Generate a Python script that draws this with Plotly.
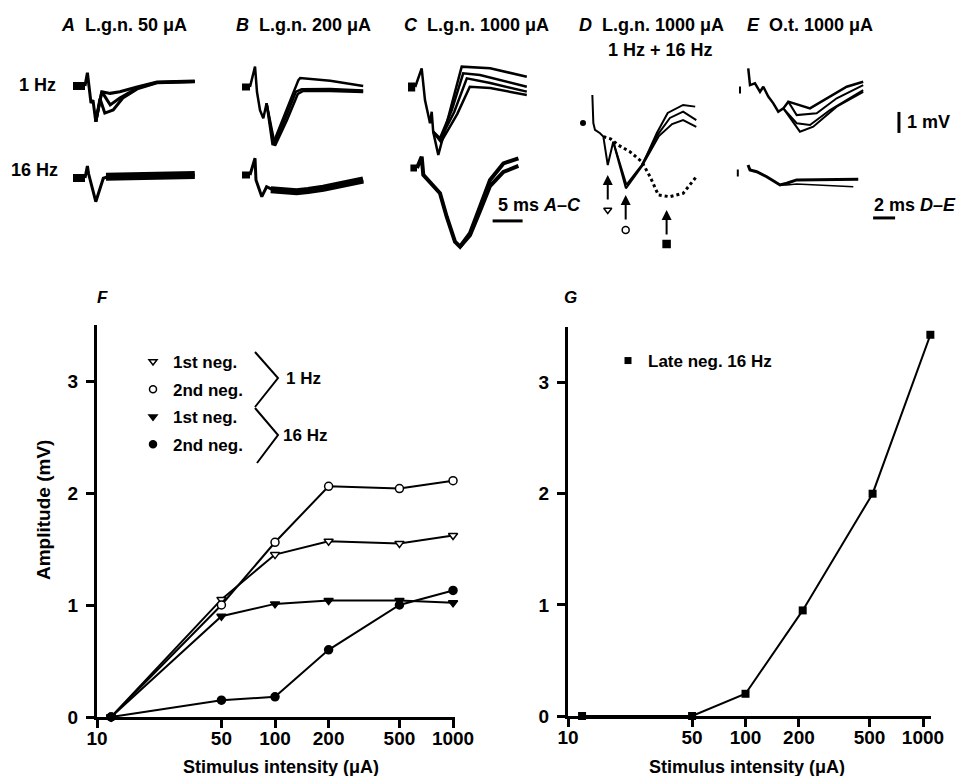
import plotly.graph_objects as go

W, H = 957, 776
FONT = "Liberation Sans, Arial, Helvetica, sans-serif"


def px(x):
    return x / W


def py(y):
    return 1 - y / H


# ---------------- Panel F / G data ----------------
stim_F = [12, 50, 100, 200, 500, 1000]
first_neg_1hz = [0, 1.05, 1.45, 1.57, 1.55, 1.62]
second_neg_1hz = [0, 1.0, 1.56, 2.06, 2.04, 2.11]
first_neg_16hz = [0, 0.9, 1.01, 1.04, 1.04, 1.02]
second_neg_16hz = [0, 0.15, 0.18, 0.6, 1.0, 1.13]

stim_G = [12, 50, 100, 210, 520, 1100]
late_neg_16hz = [0, 0, 0.2, 0.95, 2.0, 3.43]

x_tick_vals = [10, 50, 100, 200, 500, 1000]
x_tick_text = ["10", "50", "100", "200", "500", "1000"]
y_tick_vals = [0, 1, 2, 3]

# ---------------- Recorded waveforms (time ms, voltage mV) ----------------
# A  L.g.n. 50 uA
A1_base_t = [0, 2.0]
A1_t1 = [2.0, 2.4, 3.0, 3.33, 3.8, 4.8, 6.2, 7.8, 10.7, 14.0, 20.3]
A1_v1 = [0, 0.63, -0.81, -0.67, -1.70, -0.27, -0.35, -0.27, -0.05, 0.19, 0.24]
A1_t2 = [3.8, 4.8, 6.2, 7.8, 10.7, 14.0, 20.3]
A1_v2 = [-1.70, -0.27, -0.9, -0.57, -0.1, 0.17, 0.22]
A1_t3 = [3.8, 4.5, 5.3, 6.7, 8.3, 10.7, 14.0, 20.3]
A1_v3 = [-1.70, -0.6, -1.29, -1.14, -0.57, -0.14, 0.15, 0.2]
A16_base_t = [0, 2.0]
A16_t = [2.0, 2.4, 2.6, 3.8, 5.05, 6.2, 12.8, 20.3]
A16_v = [0, 0.57, 0.2, -1.13, -0.01, 0.1, 0.14, 0.14]
A16_band_t = [5.5, 12.8, 20.3]
A16_band_v = [0.06, 0.14, 0.14]

# B  L.g.n. 200 uA
B1_base_t = [0, 1.33]
B1_t1 = [1.33, 2.17, 2.5, 3.0, 3.55, 4.1, 5.1, 6.9, 8.55, 9.4, 9.7, 14.7, 20.2]
B1_v1 = [0, 0.97, -0.24, -1.1, -1.49, -0.78, -2.76, -1.48, -0.22, 0.33, 0.43, 0.3, 0.05]
B1_t2 = [4.1, 5.3, 7.25, 9.0, 9.95, 14.7, 20.2]
B1_v2 = [-0.78, -2.76, -1.48, -0.22, -0.11, -0.1, -0.17]
B1_t3 = [4.1, 5.5, 7.5, 9.3, 10.2, 14.7, 20.2]
B1_v3 = [-0.78, -2.8, -1.57, -0.33, -0.19, -0.19, -0.24]
B16_base_t = [0, 1.33]
B16_t = [1.33, 2.17, 2.33, 3.3, 4.1, 5.2, 9.1, 13.55, 20.2]
B16_v = [0, 0.8, -0.24, -1.03, -0.56, -0.71, -0.8, -0.63, -0.24]
B16_band_t = [4.8, 7.0, 9.1, 11.0, 13.55, 20.2]
B16_band_v = [-0.7, -0.78, -0.8, -0.74, -0.63, -0.24]

# C  L.g.n. 1000 uA
C1_base_t = [0, 1.2]
C1_t1 = [1.2, 2.28, 2.83, 3.67, 3.95, 4.2, 5.05, 7.0, 8.4, 8.95, 13.7, 19.8]
C1_v1 = [0, 0.89, -0.62, -1.73, -1.18, -2.13, -3.24, -1.1, 0.49, 0.97, 0.89, 0.49]
C1_t2 = [4.2, 5.33, 7.3, 9.2, 12.0, 19.8]
C1_v2 = [-2.13, -2.44, -1.1, 0.65, 0.57, 0.01]
C1_t3 = [4.2, 5.33, 7.7, 9.8, 13.7, 19.8]
C1_v3 = [-2.13, -2.52, -1.19, 0.41, 0.19, -0.22]
C1_t4 = [4.2, 5.5, 8.2, 10.3, 13.7, 19.8]
C1_v4 = [-2.13, -2.62, -1.29, 0.01, -0.05, -0.38]
C16_base_t = [0.4, 1.5]
C16_t = [1.5, 2.28, 2.55, 4.2, 5.33, 6.45, 7.83, 8.67, 10.33, 12.0, 13.67, 15.9, 18.4]
C16_v = [0, 0.54, -0.33, -0.89, -1.2, -2.32, -3.51, -3.75, -3.11, -1.84, -0.57, 0.22, 0.46]
C16_t2 = [8.67, 10.33, 12.0, 13.67, 15.9, 18.4]
C16_v2 = [-3.75, -3.2, -2.05, -0.86, -0.19, 0.1]

# D  L.g.n. 1000 uA, 1 Hz + 16 Hz
D1_t1 = [0.85, 0.94, 1.09, 1.55, 1.85, 2.25, 2.75, 3.9, 5.34, 6.7, 7.7, 9.1, 10.2]
D1_v1 = [1.33, 0, -0.33, -0.49, -0.65, -2.0, -0.89, -3.11, -2.07, -0.49, 0.48, 0.86, 0.78]
D1_t2 = [2.75, 3.95, 5.34, 6.8, 7.9, 9.1, 10.3]
D1_v2 = [-0.89, -2.95, -2.0, -0.55, 0.24, 0.54, 0.14]
D1_t3 = [5.34, 6.9, 8.1, 9.1, 10.3]
D1_v3 = [-2.07, -0.62, -0.05, 0.14, -0.18]
D16_t = [1.85, 2.5, 3.2, 4.27, 5.34, 6.1, 6.85, 7.9, 9.1, 10.3]
D16_v = [-0.65, -0.75, -1.05, -1.37, -1.84, -2.56, -3.43, -3.51, -3.35, -2.56]
D_arrow_t = [2.25, 3.88, 7.6]
D_arrow_v = [-2.48, -3.43, -4.14]
D_symbol_v = [-4.14, -5.1, -5.76]
D_symbols = ["triangle-down-open", "circle-open", "square"]

# E  O.t. 1000 uA
E1_t1 = [0.75, 0.91, 1.36, 1.82, 2.12, 2.57, 3.03, 3.48, 3.94, 4.39, 6.36, 8.18, 9.7, 11.2]
E1_v1 = [0.94, 0.14, 0.22, -0.18, 0.06, -0.41, -0.73, -1.13, -0.97, -0.65, -0.97, -0.41, 0.06, 0.3]
E1_t2 = [4.39, 5.15, 6.97, 8.79, 11.2]
E1_v2 = [-0.65, -1.29, -1.2, -0.49, 0.14]
E1_t3 = [3.94, 5.15, 6.36, 8.18, 11.2]
E1_v3 = [-0.97, -1.68, -1.76, -1.05, -0.1]
E1_t4 = [3.94, 5.45, 6.66, 8.79, 11.2]
E1_v4 = [-0.97, -2.08, -1.84, -0.89, -0.18]
E16_t1 = [0.73, 0.91, 1.52, 2.43, 3.64, 4.25, 5.15, 10.75]
E16_v1 = [0.38, 0.14, 0.06, -0.18, -0.57, -0.49, -0.33, -0.3]
E16_t2 = [3.64, 4.25, 5.15, 10.3]
E16_v2 = [-0.57, -0.57, -0.52, -0.65]

# ---------------- Figure ----------------
fig = go.Figure()

layout = dict(
    width=W, height=H, autosize=False,
    margin=dict(l=0, r=0, t=0, b=0, autoexpand=False),
    paper_bgcolor="white", plot_bgcolor="rgba(0,0,0,0)",
    font=dict(family=FONT, color="black", size=17),
    showlegend=True,
)

tickfont = dict(family=FONT, size=19, color="black", weight="bold")
common_x = dict(type="log", showline=True, linewidth=3, linecolor="black",
                ticks="outside", ticklen=8, tickwidth=3, tickcolor="black",
                tickvals=x_tick_vals, ticktext=x_tick_text, tickfont=tickfont,
                ticklabelstandoff=-6,
                showgrid=False, zeroline=False, fixedrange=True, automargin=False)
common_y = dict(range=[0, 3.5], showline=True, linewidth=3, linecolor="black",
                ticks="outside", ticklen=8, tickwidth=3, tickcolor="black",
                tickvals=y_tick_vals, tickfont=tickfont, ticklabelstandoff=4,
                showgrid=False, zeroline=False, fixedrange=True, automargin=False)
layout["xaxis"] = dict(common_x, range=[1, 3.011], domain=[px(97), px(455)], anchor="y")
layout["yaxis"] = dict(common_y, domain=[py(717), py(325)], anchor="x")
layout["xaxis2"] = dict(common_x, range=[1, 3.045], domain=[px(568), px(931)], anchor="y2")
layout["yaxis2"] = dict(common_y, domain=[py(716), py(327)], anchor="x2")

# trace panels: axis index -> (x origin px, baseline px, px per ms)
panels = {3: (73, 86, 6), 4: (73, 178, 6), 5: (242, 87, 6), 6: (242, 175, 6),
          7: (408, 87, 6), 8: (408, 168, 6), 9: (583, 123, 11),
          10: (740, 88, 11), 11: (740, 173, 11)}
PX_PER_MV = 21
LEFT, RIGHT, UP, DOWN = 12, 170, 62, 130
for k, (x0, y0, s) in panels.items():
    layout[f"xaxis{k}"] = dict(domain=[px(x0 - LEFT), px(x0 + RIGHT)], range=[-LEFT / s, RIGHT / s],
                               visible=False, anchor=f"y{k}", fixedrange=True, automargin=False)
    layout[f"yaxis{k}"] = dict(domain=[py(y0 + DOWN), py(y0 - UP)],
                               range=[-DOWN / PX_PER_MV, UP / PX_PER_MV],
                               visible=False, anchor=f"x{k}", fixedrange=True, automargin=False)


def wave(t, v, k, width=2.5, dash="solid"):
    fig.add_trace(go.Scatter(x=t, y=v, mode="lines", xaxis=f"x{k}", yaxis=f"y{k}",
                             line=dict(color="black", width=width, dash=dash),
                             showlegend=False, hoverinfo="skip", cliponaxis=False))


def block(t, k, width=8):
    wave(t, [0] * len(t), k, width=width)


# A
block(A1_base_t, 3)
wave(A1_t1, A1_v1, 3, 3)
wave(A1_t2, A1_v2, 3, 3)
wave(A1_t3, A1_v3, 3, 3)
block(A16_base_t, 4)
wave(A16_t, A16_v, 4, 3)
wave(A16_band_t, A16_band_v, 4, 8)
# B
block(B1_base_t, 5, 7)
wave(B1_t1, B1_v1, 5, 2.5)
wave(B1_t2, B1_v2, 5, 2.5)
wave(B1_t3, B1_v3, 5, 2.5)
block(B16_base_t, 6, 7)
wave(B16_t, B16_v, 6, 3)
wave(B16_band_t, B16_band_v, 6, 7)
# C
block(C1_base_t, 7, 9)
wave(C1_t1, C1_v1, 7, 2.5)
wave(C1_t2, C1_v2, 7, 2.5)
wave(C1_t3, C1_v3, 7, 2.5)
wave(C1_t4, C1_v4, 7, 2.5)
block(C16_base_t, 8, 7)
wave(C16_t, C16_v, 8, 4)
wave(C16_t2, C16_v2, 8, 4)
# D
fig.add_trace(go.Scatter(x=[0], y=[0], mode="markers", xaxis="x9", yaxis="y9",
                         marker=dict(color="black", size=6), showlegend=False, hoverinfo="skip"))
wave(D1_t1, D1_v1, 9, 2)
wave(D1_t2, D1_v2, 9, 2)
wave(D1_t3, D1_v3, 9, 2)
wave(D16_t, D16_v, 9, 3, dash="dot")
fig.add_trace(go.Scatter(x=D_arrow_t, y=D_symbol_v, mode="markers", xaxis="x9", yaxis="y9",
                         marker=dict(symbol=D_symbols, color="black", size=7,
                                     line=dict(color="black", width=1.5)),
                         showlegend=False, hoverinfo="skip", cliponaxis=False))
# E
fig.add_trace(go.Scatter(x=[0], y=[-0.1], mode="markers", xaxis="x10", yaxis="y10",
                         marker=dict(symbol="line-ns", size=5, line=dict(color="black", width=2)),
                         showlegend=False, hoverinfo="skip"))
wave(E1_t1, E1_v1, 10, 2.5)
wave(E1_t2, E1_v2, 10, 2)
wave(E1_t3, E1_v3, 10, 2)
wave(E1_t4, E1_v4, 10, 2)
fig.add_trace(go.Scatter(x=[-0.2], y=[0], mode="markers", xaxis="x11", yaxis="y11",
                         marker=dict(symbol="line-ns", size=5, line=dict(color="black", width=2)),
                         showlegend=False, hoverinfo="skip"))
wave(E16_t1, E16_v1, 11, 3)
wave(E16_t2, E16_v2, 11, 1.5)

# ---------------- F and G curves ----------------
f_series = [
    ("1st neg.", first_neg_1hz, "triangle-down", "white"),
    ("2nd neg.", second_neg_1hz, "circle", "white"),
    ("1st neg.", first_neg_16hz, "triangle-down", "black"),
    ("2nd neg.", second_neg_16hz, "circle", "black"),
]
for name, vals, sym, fill in f_series:
    fig.add_trace(go.Scatter(x=stim_F, y=vals, mode="lines+markers", xaxis="x", yaxis="y",
                             line=dict(color="black", width=2),
                             marker=dict(symbol=sym, size=8, color=fill, line=dict(color="black", width=1.5)),
                             showlegend=False, cliponaxis=False, hoverinfo="skip"))
for i, (name, vals, sym, fill) in enumerate(f_series):
    fig.add_trace(go.Scatter(x=[None], y=[None], mode="markers", xaxis="x", yaxis="y", name=name,
                             marker=dict(symbol=sym, size=7, color=fill, line=dict(color="black", width=1.5)),
                             showlegend=True, legend="legend", legendgroup=f"g{i}"))

fig.add_trace(go.Scatter(x=stim_G, y=late_neg_16hz, mode="lines+markers", xaxis="x2", yaxis="y2",
                         line=dict(color="black", width=2),
                         marker=dict(symbol="square", size=8, color="black"),
                         showlegend=False, cliponaxis=False, hoverinfo="skip"))
fig.add_trace(go.Scatter(x=[None], y=[None], mode="markers", xaxis="x2", yaxis="y2",
                         name="Late neg. 16 Hz", marker=dict(symbol="square", size=7, color="black"),
                         showlegend=True, legend="legend2"))

legfont = dict(family=FONT, size=17, color="black", weight="bold")
layout["legend"] = dict(x=px(133), y=py(344), xanchor="left", yanchor="top", font=legfont,
                        bgcolor="rgba(0,0,0,0)", tracegroupgap=2.5, itemsizing="trace")
layout["legend2"] = dict(x=px(608), y=py(343), xanchor="left", yanchor="top", font=legfont,
                         bgcolor="rgba(0,0,0,0)", itemsizing="trace")

# ---------------- Annotations ----------------
ann = []


def text(x, y, s, size=17, xanchor="center", yanchor="middle", angle=0, weight="bold"):
    ann.append(dict(x=px(x), y=py(y), xref="paper", yref="paper", text=s, showarrow=False,
                    xanchor=xanchor, yanchor=yanchor, textangle=angle,
                    font=dict(family=FONT, size=size, color="black", weight=weight)))


text(124, 25, "<i>A</i>\u00a0 L.g.n. 50 μA", size=18)
text(303, 25, "<i>B</i>\u00a0 L.g.n. 200 μA", size=18)
text(476, 25, "<i>C</i>\u00a0 L.g.n. 1000 μA", size=18)
text(651, 25, "<i>D</i>\u00a0 L.g.n. 1000 μA", size=18)
text(660, 50, "1 Hz + 16 Hz", size=18)
text(810, 25, "<i>E</i>\u00a0 O.t. 1000 μA", size=18)
text(58, 85, "1 Hz", xanchor="right", size=18)
text(60, 170, "16 Hz", xanchor="right", size=18)
text(496, 205, "5 ms <i>A–C</i>", xanchor="left", size=18)
text(872, 205, "2 ms <i>D–E</i>", xanchor="left", size=18)
text(905, 122, "1 mV", xanchor="left", size=18)
text(95, 297, "<i>F</i>", xanchor="left")
text(562, 297, "<i>G</i>", xanchor="left")
text(281, 767, "Stimulus intensity (μA)", size=18)
text(747, 767, "Stimulus intensity (μA)", size=18)
text(43, 510, "Amplitude (mV)", size=19, angle=-90)
text(284, 378, "1 Hz", xanchor="left")
text(281, 435, "16 Hz", xanchor="left")

# arrows in panel D
for t, v in zip(D_arrow_t, D_arrow_v):
    ann.append(dict(x=t, y=v, xref="x9", yref="y9", ax=0, ay=26, text="", showarrow=True,
                    arrowhead=2, arrowsize=1, arrowwidth=2, arrowcolor="black"))
layout["annotations"] = ann

# ---------------- Shapes: braces and scale bars ----------------
shapes = [
    dict(type="path", xref="paper", yref="paper",
         path=f"M {px(255)} {py(352)} L {px(278)} {py(378)} L {px(255)} {py(407)}",
         line=dict(color="black", width=2)),
    dict(type="path", xref="paper", yref="paper",
         path=f"M {px(255)} {py(408)} L {px(278)} {py(435)} L {px(257)} {py(463)}",
         line=dict(color="black", width=2)),
    # 5 ms bar (panel C time scale)
    dict(type="line", xref="x8", yref="y8", x0=14.1, x1=19.1, y0=-2.52, y1=-2.52,
         line=dict(color="black", width=3)),
    # 2 ms bar (panel E time scale)
    dict(type="line", xref="x11", yref="y11", x0=12.1, x1=14.1, y0=-2.14, y1=-2.14,
         line=dict(color="black", width=3)),
    # 1 mV bar
    dict(type="line", xref="x10", yref="y10", x0=14.45, x1=14.45, y0=-2.14, y1=-1.14,
         line=dict(color="black", width=3)),
]
layout["shapes"] = shapes

fig.update_layout(**layout)
fig.write_html("out.html", config={"displayModeBar": False},
               post_script="document.body.style.margin='0';document.body.style.padding='0';"
                           "document.body.style.overflow='hidden';")
